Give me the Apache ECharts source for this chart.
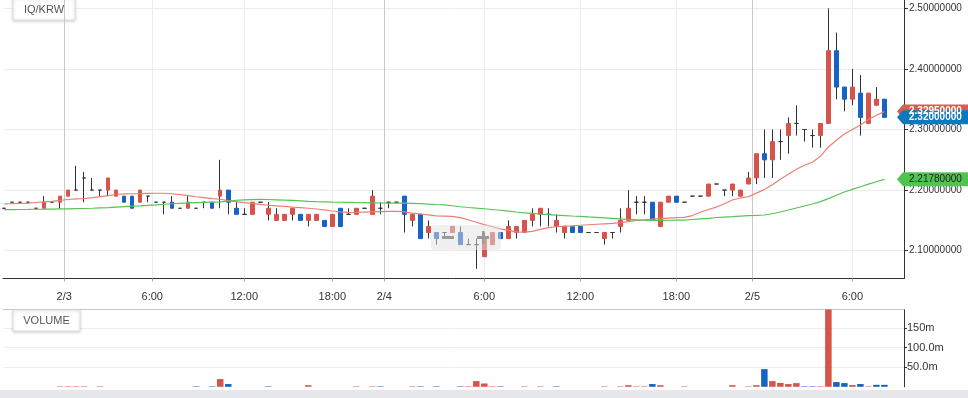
<!DOCTYPE html>
<html>
<head>
<meta charset="utf-8">
<title>IQ/KRW</title>
<script src="https://cdn.jsdelivr.net/npm/echarts@6/dist/echarts.min.js"></script>
<style>
html, body { margin: 0; padding: 0; background: #fff; }
#chart { width: 968px; height: 398px; }
</style>
</head>
<body>
<div id="chart"></div>
<script>
// 30 min candles, one per slot (slot = x index)
var opens = [
  2.17,2.18,2.18,2.18,2.17,2.17,2.18,2.18,2.19,2.20,
  2.22,2.20,2.20,2.20,2.19,2.19,2.19,2.18,2.19,2.18,
  2.18,2.18,2.17,2.17,2.17,2.18,2.18,2.19,2.20,2.17,
  2.16,2.16,2.18,2.16,2.15,2.15,2.16,2.16,2.15,2.15,
  2.15,2.14,2.17,2.16,2.16,2.17,2.16,2.17,2.18,2.18,
  2.19,2.15,2.16,2.13,2.13,2.13,2.13,2.13,2.11,2.11,
  2.09,2.11,2.13,2.12,2.13,2.13,2.15,2.16,2.16,2.14,
  2.13,2.14,2.14,2.13,2.13,2.12,2.13,2.14,2.15,2.18,
  2.18,2.18,2.14,2.18,2.19,2.18,2.19,2.19,2.19,2.21,
  2.20,2.20,2.19,2.21,2.22,2.26,2.25,2.28,2.29,2.31,
  2.30,2.29,2.29,2.31,2.43,2.37,2.35,2.36,2.31,2.34,2.35
];
var closes = [
  2.17,2.18,2.18,2.18,2.17,2.18,2.18,2.19,2.20,2.20,
  2.22,2.20,2.20,2.22,2.20,2.18,2.17,2.20,2.19,2.18,
  2.18,2.17,2.17,2.18,2.17,2.18,2.17,2.20,2.18,2.16,
  2.16,2.18,2.18,2.17,2.16,2.16,2.17,2.15,2.16,2.16,
  2.14,2.16,2.14,2.16,2.17,2.17,2.19,2.17,2.18,2.18,
  2.16,2.16,2.12,2.14,2.12,2.13,2.14,2.11,2.11,2.11,
  2.12,2.13,2.12,2.14,2.14,2.15,2.16,2.17,2.16,2.15,
  2.14,2.13,2.13,2.13,2.13,2.13,2.13,2.15,2.17,2.18,
  2.18,2.15,2.18,2.19,2.18,2.18,2.19,2.19,2.21,2.21,
  2.20,2.21,2.20,2.22,2.26,2.25,2.28,2.28,2.31,2.31,
  2.30,2.29,2.31,2.43,2.37,2.35,2.37,2.32,2.36,2.35,2.32
];
var lows = [
  2.17,2.18,2.18,2.18,2.17,2.17,2.18,2.17,2.19,2.20,
  2.18,2.20,2.19,2.19,2.19,2.18,2.17,2.18,2.18,2.18,
  2.16,2.17,2.17,2.17,2.17,2.17,2.17,2.17,2.16,2.16,
  2.16,2.16,2.18,2.15,2.15,2.15,2.15,2.15,2.14,2.15,
  2.14,2.14,2.14,2.16,2.16,2.17,2.16,2.16,2.17,2.18,
  2.13,2.14,2.12,2.12,2.11,2.12,2.13,2.11,2.11,2.07,
  2.09,2.11,2.12,2.12,2.12,2.13,2.14,2.14,2.14,2.13,
  2.12,2.13,2.13,2.13,2.13,2.11,2.12,2.13,2.15,2.16,
  2.16,2.15,2.14,2.18,2.18,2.18,2.19,2.19,2.19,2.21,
  2.19,2.19,2.19,2.21,2.21,2.22,2.22,2.25,2.26,2.29,
  2.28,2.27,2.27,2.31,2.35,2.33,2.34,2.29,2.31,2.34,2.32
];
var highs = [
  2.17,2.18,2.18,2.18,2.17,2.19,2.18,2.19,2.20,2.24,
  2.23,2.22,2.20,2.22,2.20,2.19,2.19,2.20,2.19,2.18,
  2.18,2.19,2.17,2.19,2.17,2.18,2.18,2.25,2.20,2.18,
  2.17,2.18,2.18,2.18,2.17,2.16,2.17,2.16,2.16,2.16,
  2.15,2.16,2.17,2.17,2.17,2.17,2.20,2.18,2.18,2.18,
  2.19,2.16,2.16,2.15,2.13,2.13,2.14,2.14,2.12,2.12,
  2.13,2.13,2.13,2.15,2.14,2.15,2.17,2.17,2.17,2.16,
  2.14,2.14,2.14,2.13,2.13,2.13,2.13,2.17,2.20,2.19,
  2.19,2.18,2.18,2.19,2.19,2.18,2.19,2.19,2.21,2.21,
  2.20,2.21,2.20,2.23,2.26,2.30,2.30,2.30,2.32,2.34,
  2.30,2.30,2.31,2.50,2.46,2.37,2.40,2.39,2.36,2.37,2.35
];
// moving averages
var maShort = [
  2.1772,2.1775,2.1780,2.1785,2.1795,2.1805,2.1815,2.1830,2.1845,2.1855,
  2.1860,2.1875,2.1893,2.1910,2.1931,2.1936,2.1940,2.1942,2.1945,2.1948,
  2.1948,2.1940,2.1926,2.1910,2.1890,2.1875,2.1860,2.1849,2.1827,2.1810,
  2.1793,2.1780,2.1765,2.1750,2.1740,2.1730,2.1720,2.1712,2.1700,2.1688,
  2.1675,2.1655,2.1640,2.1633,2.1630,2.1635,2.1640,2.1645,2.1650,2.1648,
  2.1642,2.1620,2.1605,2.1590,2.1575,2.1571,2.1565,2.1545,2.1510,2.1470,
  2.1430,2.1395,2.1360,2.1334,2.1310,2.1307,2.1318,2.1351,2.1380,2.1395,
  2.1405,2.1411,2.1420,2.1428,2.1436,2.1443,2.1450,2.1462,2.1480,2.1500,
  2.1510,2.1520,2.1530,2.1538,2.1545,2.1550,2.1580,2.1634,2.1680,2.1720,
  2.1775,2.1836,2.1870,2.1890,2.1950,2.2008,2.2090,2.2178,2.2260,2.2345,
  2.2410,2.2460,2.2558,2.2712,2.2822,2.2925,2.3000,2.3075,2.3165,2.3235,2.3295
];
var maLong = [
  2.1678,2.1679,2.1680,2.1681,2.1684,2.1685,2.1687,2.1689,2.1690,2.1693,
  2.1696,2.1700,2.1706,2.1712,2.1720,2.1728,2.1736,2.1740,2.1748,2.1755,
  2.1766,2.1775,2.1782,2.1788,2.1794,2.1798,2.1802,2.1806,2.1818,2.1832,
  2.1838,2.1843,2.1846,2.1845,2.1840,2.1835,2.1829,2.1822,2.1815,2.1810,
  2.1806,2.1802,2.1799,2.1797,2.1795,2.1793,2.1790,2.1787,2.1785,2.1785,
  2.1784,2.1782,2.1778,2.1770,2.1762,2.1755,2.1742,2.1725,2.1713,2.1702,
  2.1692,2.1680,2.1667,2.1653,2.1638,2.1625,2.1615,2.1605,2.1596,2.1587,
  2.1580,2.1572,2.1565,2.1557,2.1550,2.1542,2.1534,2.1524,2.1516,2.1510,
  2.1502,2.1500,2.1500,2.1502,2.1505,2.1505,2.1515,2.1525,2.1533,2.1548,
  2.1555,2.1562,2.1570,2.1577,2.1582,2.1589,2.1610,2.1639,2.1672,2.1705,
  2.1738,2.1771,2.1810,2.1859,2.1915,2.1969,2.2012,2.2055,2.2098,2.2138,2.2178
];
// volume in millions (0 = no bar)
var volumes = [
  0,0,0,0,0,0,0,1.2,1.2,1.2,
  1.2,0,1.2,0,0,0,0,0,0,0,
  0,0,0,0,1.2,0,1.2,19.6,7,0,
  0,0,0,1.2,0,0,0,0,4,0,
  0,0,0,0,1.2,0,1.2,1.2,0,0,
  0,1.2,1.2,0,1.2,0,0,1.2,1.2,14.5,
  8.5,1.2,1.2,0,0,1.2,0,1.2,0,1.2,
  0,0,0,0,0,1.2,0,1.2,4,1.2,
  1.2,7,4,0,0,1.2,0,0,0,0,
  0,4,0,1.2,4,45,14.5,10,7,9.4,
  1.2,1.2,1.2,210,12,9.4,4.5,7,1.2,5,5
];
var timeTickPos = [7.5, 18.5, 30, 41, 47.5, 60, 72, 84, 93.5, 106];
var timeTickLabels = ['2/3', '6:00', '12:00', '18:00', '2/4', '6:00', '12:00', '18:00', '2/5', '6:00'];
var priceTicks = [2.1, 2.2, 2.3, 2.4, 2.5];
var volTicks = [50, 100, 150];
var volTickLabels = ['50.0m', '100.0m', '150m'];

var UP = '#d6554a', DOWN = '#1663c6', WICK = '#30343a';
var FONT = 'Arial, "Liberation Sans", sans-serif';
var xMin = -0.15, xMax = 112.45;
var yMin = 2.0541, yMax = 2.5137;

var wickData = [], bodyData = [], maShortData = [], maLongData = [], volData = [];
for (var i = 0; i < opens.length; i++) {
  var o = opens[i], c = closes[i];
  wickData.push([i, o, c, lows[i], highs[i]]);
  var item = { value: [i, o, c, Math.min(o, c), Math.max(o, c)] };
  if (o === c) {
    item.itemStyle = { color: WICK, color0: WICK, borderColor: WICK, borderColor0: WICK };
  }
  bodyData.push(item);
  maShortData.push([i, maShort[i]]);
  maLongData.push([i, maLong[i]]);
  if (volumes[i] > 0) {
    var up = i === 0 || closes[i] >= closes[i - 1];
    volData.push({ value: [i, volumes[i]], itemStyle: { color: up ? UP : DOWN } });
  }
}

var chart = echarts.init(document.getElementById('chart'));
var option = {
  animation: false,
  textStyle: { fontFamily: FONT },
  grid: [
    { left: 3, right: 64, top: 0, height: 278.5 },
    { left: 3, right: 64, top: 309.5, height: 77.3 }
  ],
  xAxis: [
    {
      type: 'value', gridIndex: 0, min: xMin, max: xMax, z: 2,
      axisLine: { show: true, onZero: false, lineStyle: { color: '#333' } },
      axisTick: { show: true, length: 3, customValues: timeTickPos, lineStyle: { color: '#aaa' } },
      axisLabel: {
        customValues: timeTickPos, color: '#333', fontSize: 11, margin: 13,
        formatter: function (v) {
          var k = timeTickPos.indexOf(v);
          return k >= 0 ? timeTickLabels[k] : '';
        }
      },
      splitLine: { show: true, lineStyle: { color: ['#c8c8c8', '#ececec', '#ececec', '#ececec'] } }
    },
    {
      type: 'value', gridIndex: 1, min: xMin, max: xMax, position: 'top',
      axisLine: { show: true, onZero: false, lineStyle: { color: '#c8c8c8' } },
      axisTick: { show: false }, axisLabel: { show: false }, splitLine: { show: false }
    }
  ],
  yAxis: [
    {
      type: 'value', gridIndex: 0, position: 'right', min: yMin, max: yMax,
      axisLine: { show: true, onZero: false, lineStyle: { color: '#333' } },
      axisTick: { show: true, length: 4, customValues: priceTicks, lineStyle: { color: '#333' } },
      axisLabel: {
        customValues: priceTicks, color: '#333', fontSize: 10, margin: 5,
        formatter: function (v) { return v.toFixed(8); }
      },
      splitLine: { show: true, lineStyle: { color: '#ececec' } }
    },
    {
      type: 'value', gridIndex: 1, position: 'right', min: 0, max: 197,
      axisLine: { show: true, onZero: false, lineStyle: { color: '#333' } },
      axisTick: { show: true, length: 3, customValues: volTicks, lineStyle: { color: '#333' } },
      axisLabel: {
        customValues: volTicks, color: '#333', fontSize: 11, margin: 3,
        formatter: function (v) { return volTickLabels[volTicks.indexOf(v)] || ''; }
      },
      splitLine: { show: true, lineStyle: { color: '#ececec' } }
    }
  ],
  series: [
    {
      name: 'wick', type: 'candlestick', xAxisIndex: 0, yAxisIndex: 0, z: 3,
      silent: true, barWidth: 0.1,
      encode: { x: 0, y: [1, 2, 3, 4] },
      itemStyle: { color: WICK, color0: WICK, borderColor: WICK, borderColor0: WICK, borderColorDoji: WICK, borderWidth: 1 },
      data: wickData
    },
    {
      name: 'IQ/KRW', type: 'candlestick', xAxisIndex: 0, yAxisIndex: 0, z: 4,
      silent: true, barWidth: 4,
      encode: { x: 0, y: [1, 2, 3, 4] },
      itemStyle: { color: UP, color0: DOWN, borderColor: UP, borderColor0: DOWN, borderColorDoji: WICK, borderWidth: 1 },
      data: bodyData
    },
    {
      name: 'MA short', type: 'line', xAxisIndex: 0, yAxisIndex: 0, z: 5,
      silent: true, symbol: 'none',
      lineStyle: { color: '#ec7f74', width: 1.2 },
      data: maShortData
    },
    {
      name: 'MA long', type: 'line', xAxisIndex: 0, yAxisIndex: 0, z: 5,
      silent: true, symbol: 'none',
      lineStyle: { color: '#55c455', width: 1.2 },
      data: maLongData
    },
    {
      name: 'VOLUME', type: 'bar', xAxisIndex: 1, yAxisIndex: 1, z: 3,
      silent: true, barWidth: 6.5,
      data: volData
    }
  ]
};
chart.setOption(option);

// decorations are added straight to the renderer, no second setOption
var zr = chart.getZr();
var G = echarts.graphic;
function addRect(x, y, w, h, style, z, r) {
  zr.add(new G.Rect({ shape: { x: x, y: y, width: w, height: h, r: r || 0 }, style: style, z: z, silent: true }));
}
function addText(x, y, text, style, z) {
  style.text = text;
  zr.add(new G.Text({ x: x, y: y, style: style, z: z, z2: 5, silent: true }));
}
var boxStyle = function () {
  return { fill: '#fff', stroke: '#e2e2e2', lineWidth: 1, shadowBlur: 3, shadowOffsetY: 1, shadowColor: 'rgba(0,0,0,0.18)' };
};

// keep the left edge of both panels clean
addRect(1.5, 0, 3, 278, { fill: '#fff' }, 2.5);
addRect(1.5, 310.5, 3, 77, { fill: '#fff' }, 2.5);
// legend boxes
addRect(13, -2, 62, 22, boxStyle(), 1);
addText(44, 9.5, 'IQ/KRW', { fill: '#555', font: '11px ' + FONT, align: 'center', verticalAlign: 'middle' }, 1);
addRect(13, 310, 67, 21, boxStyle(), 1);
addText(46.5, 320.5, 'VOLUME', { fill: '#555', font: '11px ' + FONT, align: 'center', verticalAlign: 'middle' }, 1);
// zoom control overlay
addRect(431, 225, 70, 25, { fill: 'rgba(226,226,226,0.5)' }, 15, 4);
addRect(442, 236, 12, 3, { fill: '#9a9a9a' }, 16);
addRect(477, 236, 12, 3, { fill: '#9a9a9a' }, 16);
addRect(482, 231, 2.5, 13, { fill: '#9a9a9a' }, 16);
// bottom strip
addRect(0, 390, 968, 8, { fill: '#e5e7ea' }, 1);

// price tags on the right axis, placed through the axis scale
var axisX = chart.convertToPixel({ xAxisIndex: 0 }, xMax);
function priceTag(value, fill, textColor, bold) {
  var y = chart.convertToPixel({ yAxisIndex: 0 }, value);
  zr.add(new G.Polygon({
    shape: { points: [[axisX - 7, y], [axisX - 1, y - 7], [968, y - 7], [968, y + 7], [axisX - 1, y + 7]] },
    style: { fill: fill }, z: 20, silent: true
  }));
  addText(axisX + 5, y, value.toFixed(8),
    { fill: textColor, font: (bold ? 'bold ' : '') + '10px ' + FONT, verticalAlign: 'middle' }, 20);
}
var last = closes.length - 1;
priceTag(maShort[last], '#dd5a4e', '#fff', true);
priceTag(maLong[last], '#50c450', '#1c1c1c', false);
priceTag(closes[last], '#0b79be', '#fff', true);
</script>
</body>
</html>
